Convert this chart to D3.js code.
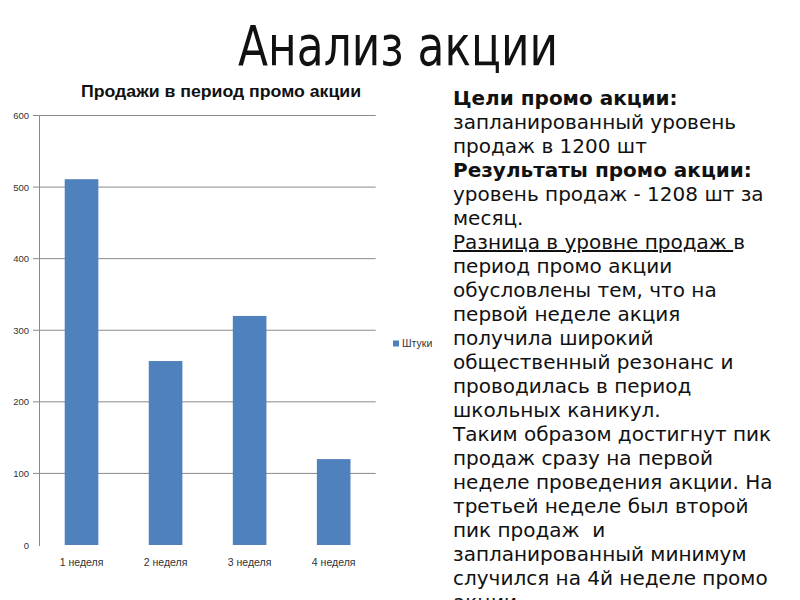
<!DOCTYPE html>
<html><head><meta charset="utf-8">
<script src="https://cdn.jsdelivr.net/npm/d3@7"></script>
<style>
html,body{margin:0;padding:0;background:#fff;}
svg{display:block;}
text{white-space:pre;}
</style></head>
<body>
<svg id="c" width="800" height="600"></svg>
<script>
const slideTitle = "Анализ акции";
const chartTitle = "Продажи в период промо акции";
const categories = ["1 неделя", "2 неделя", "3 неделя", "4 неделя"];
const values = [511, 257, 320, 120];
const yTicks = [0, 100, 200, 300, 400, 500, 600];
const seriesName = "Штуки";
// body text lines: [segments], each segment {t, bold, underline}
const bodyLines = [
  [{t:"Цели промо акции:", b:true}],
  [{t:"запланированный уровень"}],
  [{t:"продаж в 1200 шт"}],
  [{t:"Результаты промо акции:", b:true}],
  [{t:"уровень продаж - 1208 шт за"}],
  [{t:"месяц."}],
  [{t:"Разница в уровне продаж ", u:true}, {t:"в"}],
  [{t:"период промо акции"}],
  [{t:"обусловлены тем, что на"}],
  [{t:"первой неделе акция"}],
  [{t:"получила широкий"}],
  [{t:"общественный резонанс и"}],
  [{t:"проводилась в период"}],
  [{t:"школьных каникул."}],
  [{t:"Таким образом достигнут пик"}],
  [{t:"продаж сразу на первой"}],
  [{t:"неделе проведения акции. На"}],
  [{t:"третьей неделе был второй"}],
  [{t:"пик продаж  и"}],
  [{t:"запланированный минимум"}],
  [{t:"случился на 4й неделе промо"}],
  [{t:"акции."}]
];

const svg = d3.select("#c");

// Slide title
svg.append("text")
  .attr("x", 398).attr("y", 65)
  .attr("text-anchor", "middle")
  .attr("font-family", "DejaVu Sans")
  .attr("font-size", 56)
  .attr("textLength", 320).attr("lengthAdjust", "spacingAndGlyphs")
  .attr("fill", "#111")
  .text(slideTitle);

// Chart
const x = d3.scaleBand().domain(categories).range([39.5, 375.7]).paddingInner(0.6).paddingOuter(0.3);
const y = d3.scaleLinear().domain([0, 600]).range([545, 115.5]);

const g = svg.append("g");

// gridlines
g.selectAll("line.grid").data(yTicks.filter(d => d > 0)).join("line")
  .attr("class", "grid")
  .attr("x1", 33).attr("x2", 375.7)
  .attr("y1", d => y(d)).attr("y2", d => y(d))
  .attr("stroke", "#8a8a8a").attr("stroke-width", 1);

// y axis line
g.append("line")
  .attr("x1", 39.5).attr("x2", 39.5)
  .attr("y1", y(600)).attr("y2", y(0) + 1)
  .attr("stroke", "#8a8a8a").attr("stroke-width", 1);

// y tick labels
g.selectAll("text.yt").data(yTicks).join("text")
  .attr("class", "yt")
  .attr("x", 29).attr("y", d => y(d) + 3.5)
  .attr("text-anchor", "end")
  .attr("font-family", "Liberation Sans")
  .attr("font-size", 9.5)
  .attr("fill", "#333")
  .text(d => d);

// bars
g.selectAll("rect.bar").data(values).join("rect")
  .attr("class", "bar")
  .attr("x", (d, i) => x(categories[i]))
  .attr("width", x.bandwidth())
  .attr("y", d => y(d))
  .attr("height", d => y(0) - y(d))
  .attr("fill", "#4f81bd");

// category labels
g.selectAll("text.xt").data(categories).join("text")
  .attr("class", "xt")
  .attr("x", d => x(d) + x.bandwidth() / 2)
  .attr("y", 566)
  .attr("text-anchor", "middle")
  .attr("font-family", "Liberation Sans")
  .attr("font-size", 10.5)
  .attr("fill", "#333")
  .text(d => d);

// chart title
svg.append("text")
  .attr("x", 221).attr("y", 97)
  .attr("text-anchor", "middle")
  .attr("font-family", "Liberation Sans")
  .attr("font-weight", "bold")
  .attr("font-size", 16)
  .attr("textLength", 280).attr("lengthAdjust", "spacingAndGlyphs")
  .attr("fill", "#111")
  .text(chartTitle);

// legend
svg.append("rect").attr("x", 393).attr("y", 340.5).attr("width", 6).attr("height", 6).attr("fill", "#4f81bd");
svg.append("text").attr("x", 402).attr("y", 347)
  .attr("font-family", "Liberation Sans").attr("font-size", 10.5).attr("fill", "#333")
  .text(seriesName);

// body text
const body = svg.append("g");
bodyLines.forEach((segs, i) => {
  const t = body.append("text")
    .attr("x", 453).attr("y", 105 + i * 24)
    .attr("font-family", "DejaVu Sans")
    .attr("font-size", 20)
    .attr("fill", "#111");
  segs.forEach(s => {
    const ts = t.append("tspan").text(s.t);
    if (s.b) ts.attr("font-weight", "bold");
    if (s.u) ts.style("text-decoration", "underline");
  });
});
</script>
</body></html>
